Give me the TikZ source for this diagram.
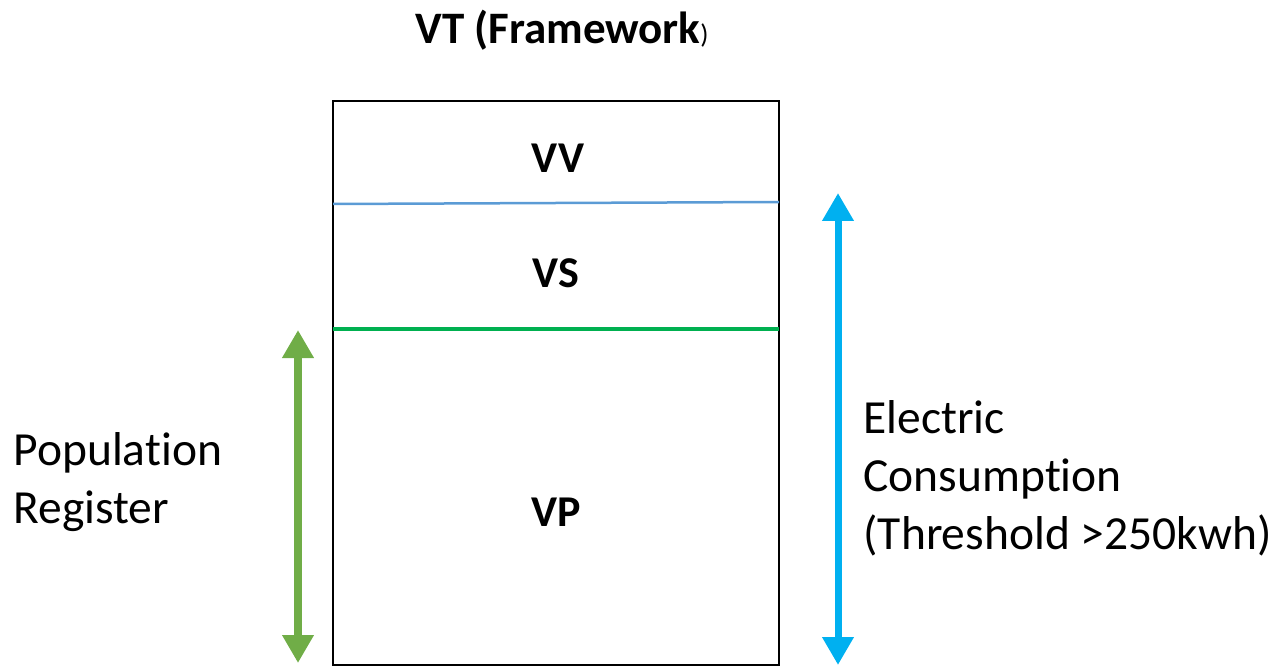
\documentclass[tikz,border=0pt]{standalone}
\usepackage{fontspec}
\setmainfont[Ligatures=NoCommon]{Carlito}
\usetikzlibrary{arrows.meta}
\definecolor{regblue}{HTML}{5B9BD5}
\definecolor{reggreen}{HTML}{00B050}
\definecolor{popgreen}{HTML}{70AD47}
\definecolor{elecblue}{HTML}{00B0F0}
\tikzset{
  layer/.style={font=\fontsize{44}{50}\selectfont\bfseries},
  side/.style={font=\fontsize{47.5}{58}\selectfont, align=left, anchor=west},
  span/.style={line width=8pt, {Triangle[width=30pt,length=28pt]}-{Triangle[width=30pt,length=28pt]}}
}
\begin{document}
\begin{tikzpicture}[x=1pt,y=-1pt]
\useasboundingbox (0,0) rectangle (1280,668);
\coordinate (TL) at (333,101);
\coordinate (BR) at (779,665);
\coordinate (VVl) at (333,204);
\coordinate (VVr) at (779,202);
\coordinate (VSl) at (333,329);
\coordinate (VSr) at (779,329);
\coordinate (Ptop) at (298,330);
\coordinate (Pbot) at (298,663);
\coordinate (Etop) at (838,193);
\coordinate (Ebot) at (838,665);
\draw[line width=1.5pt] (TL) rectangle (BR);
\draw[regblue, line width=2.5pt] (VVl) -- (VVr);
\draw[reggreen, line width=4pt] (VSl) -- (VSr);
\draw[span, popgreen] (Ptop) -- (Pbot);
\draw[span, elecblue, line width=7pt] (Etop) -- (Ebot);
\node[font=\fontsize{45}{50}\selectfont] (title) at (562,30) {\textbf{VT (Framework}{\fontsize{27}{30}\selectfont)}};
\node[layer] (VV) at (558,158) {VV};
\node[layer] (VS) at (556,273) {VS};
\node[layer] (VP) at (556,512) {VP};
\node[side] (pop) at (10,482) {Population\\Register};
\node[side] (elec) at (860,478) {Electric\\Consumption\\(Threshold >250kwh)};
\end{tikzpicture}
\end{document}
